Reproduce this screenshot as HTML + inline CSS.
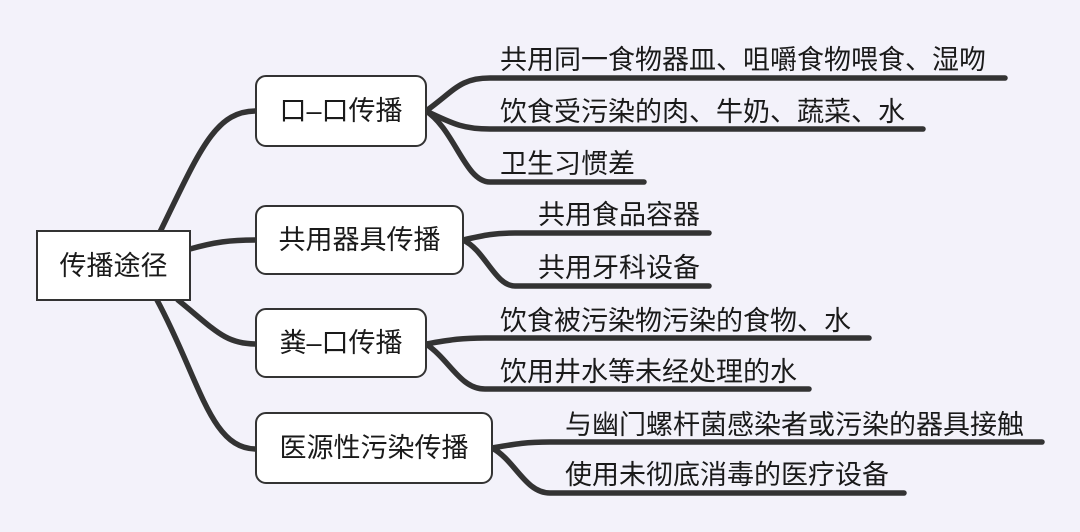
<!DOCTYPE html>
<html><head><meta charset="utf-8"><style>
html,body{margin:0;padding:0;background:#f3f2fa;}
svg{display:block}
text{font-family:"Liberation Sans","Noto Sans CJK SC",sans-serif;font-size:27px;fill:#1a1a1a}
</style></head><body>
<svg width="1080" height="532" viewBox="0 0 1080 532">
<rect width="1080" height="532" fill="#f3f2fa"/>
<g fill="none" stroke="#333" stroke-width="5.5" stroke-linecap="round">
<path d="M160 232 C200 150 215 111 256 111"/>
<path d="M190 249 C215 242 230 240 256 240"/>
<path d="M178 300 C215 330 225 344 256 344"/>
<path d="M157 300 C200 380 210 449 256 449"/>
<path d="M426 111 C455 90 460 78 490 78 L1005 78"/>
<path d="M426 111 C455 125 465 129 490 129 L923 129"/>
<path d="M426 111 C455 130 465 182 490 182 L644 182"/>
<path d="M463 240 C485 235 495 233 515 233 L709 233"/>
<path d="M463 240 C485 250 495 286 515 286 L709 286"/>
<path d="M426 344 C450 340 460 338 485 338 L869 338"/>
<path d="M426 344 C450 360 460 389 485 389 L809 389"/>
<path d="M492 448 C515 444 525 442 550 442 L1042 442"/>
<path d="M492 448 C515 460 525 493 550 493 L904 493"/>
</g>
<g stroke="#333" stroke-width="2" fill="#fff">
<rect x="37" y="231" width="153" height="69"/>
<rect x="256" y="76" width="170" height="70" rx="10"/>
<rect x="256" y="206" width="207" height="68" rx="10"/>
<rect x="256" y="309" width="170" height="68" rx="10"/>
<rect x="256" y="413" width="236" height="70" rx="10"/>
</g>
<text x="113.5" y="275" text-anchor="middle">传播途径</text>
<text x="341" y="120" text-anchor="middle">口–口传播</text>
<text x="359.5" y="249" text-anchor="middle">共用器具传播</text>
<text x="341" y="352" text-anchor="middle">粪–口传播</text>
<text x="374" y="457" text-anchor="middle">医源性污染传播</text>
<g style="font-size:27.5px">
<text x="500" y="69">共用同一食物器皿、咀嚼食物喂食、湿吻</text>
<text x="500" y="121">饮食受污染的肉、牛奶、蔬菜、水</text>
<text x="500" y="173">卫生习惯差</text>
<text x="538" y="224">共用食品容器</text>
<text x="538" y="277">共用牙科设备</text>
<text x="500" y="330">饮食被污染物污染的食物、水</text>
<text x="500" y="381">饮用井水等未经处理的水</text>
<text x="565" y="434">与幽门螺杆菌感染者或污染的器具接触</text>
<text x="565" y="484">使用未彻底消毒的医疗设备</text>
</g>
</svg>
</body></html>
